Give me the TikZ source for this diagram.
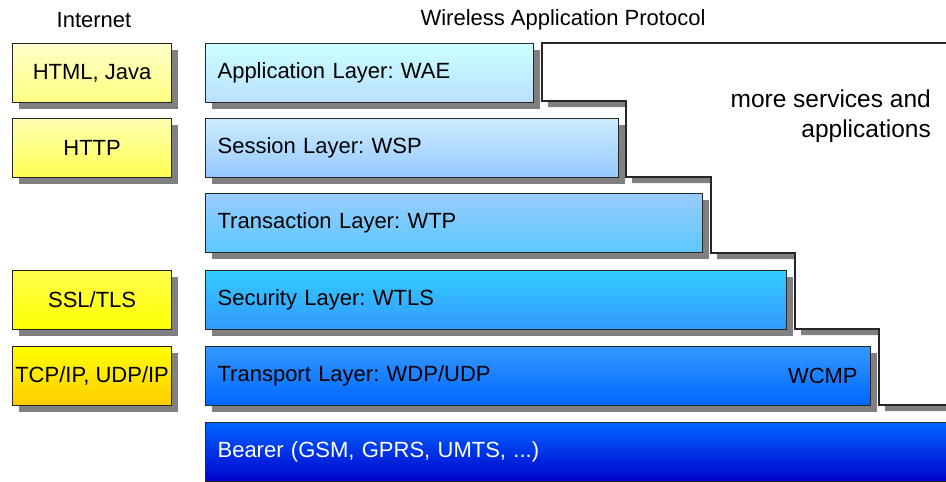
\documentclass[tikz,border=0pt]{standalone}
\usepackage{fontspec}
\setmainfont{Liberation Sans}
\usetikzlibrary{positioning,shadows}
\frenchspacing

\tikzset{
  box/.style={draw=black!85, line width=1.2pt, rectangle, anchor=north west,
    minimum height=59pt, inner ysep=0pt, font=\fontsize{22}{30}\selectfont,
    drop shadow={shadow xshift=6pt, shadow yshift=-6pt, fill=black!50, opacity=1}},
  netbox/.style={box, minimum width=159pt, inner xsep=0pt},
  wapbox/.style={box, inner xsep=12pt, align=left},
  head/.style={font=\fontsize{22}{26}\selectfont}
}

\begin{document}
\begin{tikzpicture}[x=1pt, y=-1pt]
  \clip (0,0) rectangle (946,482);

  % headings
  \node[head] (inet) at (94,20) {Internet};
  \node[head] (wap) at (563,20) {Wireless Application Protocol};

  % internet side
  \node[netbox, top color=yellow!20, bottom color=yellow!50] (html) at (12,43) {HTML, Java};
  \node[netbox, top color=yellow!30, bottom color=yellow!68] (http) at (12,118) {HTTP};
  \node[netbox, top color=yellow!70, bottom color=yellow] (ssl) at (12,270) {SSL/TLS};
  \node[netbox, top color=yellow, bottom color={rgb,255:red,255;green,204;blue,0}] (tcp) at (12,346) {TCP/IP, UDP/IP};

  % room for more services
  \draw[draw=black!85, fill=white, line width=1.2pt,
        drop shadow={shadow xshift=6pt, shadow yshift=-6pt, fill=black!50, opacity=1}]
    (542,43) -- (952,43) -- (952,405) -- (879,405) -- (879,329) -- (795,329)
    -- (795,253) -- (711,253) -- (711,177) -- (626,177) -- (626,101) -- (542,101) -- cycle;
  \node[anchor=north east, align=right, inner sep=0pt, font=\fontsize{24.5}{29.5}\selectfont] (more) at (931,90)
    {more services and\\applications};

  % WAP layers
  \node[wapbox, text width=304pt, top color={rgb,255:red,204;green,255;blue,255},
        bottom color={rgb,255:red,184;green,224;blue,255}] (wae) at (205,43) {Application Layer: WAE};
  \node[wapbox, text width=389pt, top color={rgb,255:red,204;green,236;blue,255},
        bottom color={rgb,255:red,150;green,200;blue,255}] (wsp) at (205,118) {Session Layer: WSP};
  \node[wapbox, text width=473pt, top color={rgb,255:red,153;green,204;blue,255},
        bottom color={rgb,255:red,90;green,200;blue,255}] (wtp) at (205,193) {Transaction Layer: WTP};
  \node[wapbox, text width=557pt, top color={rgb,255:red,51;green,204;blue,255},
        bottom color={rgb,255:red,51;green,153;blue,255}] (wtls) at (205,270) {Security Layer: WTLS};
  \node[wapbox, text width=641pt, top color={rgb,255:red,51;green,153;blue,255},
        bottom color={rgb,255:red,0;green,102;blue,255}] (wdp) at (205,346) {Transport Layer: WDP/UDP};
  \node[anchor=east, font=\fontsize{22}{30}\selectfont] (wcmp) at ([xshift=-10pt]wdp.east) {WCMP};
  \node[wapbox, text width=721pt, text=white, top color={rgb,255:red,0;green,102;blue,255},
        bottom color={rgb,255:red,0;green,0;blue,204}] (bearer) at (205,422) {Bearer (GSM, GPRS, UMTS, ...)};
\end{tikzpicture}
\end{document}
